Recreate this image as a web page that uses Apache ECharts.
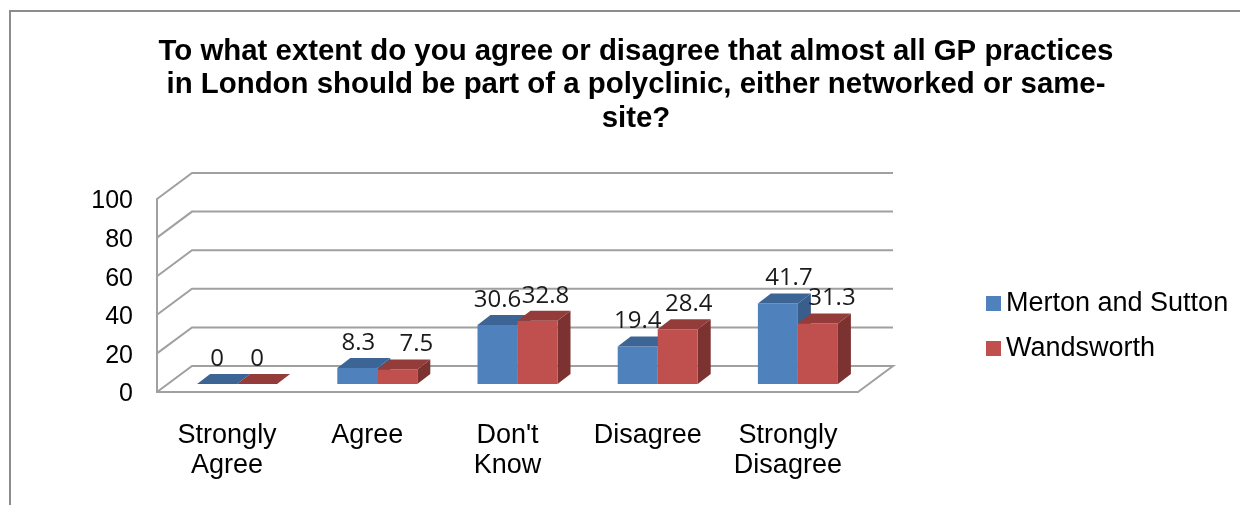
<!DOCTYPE html>
<html>
<head>
<meta charset="utf-8">
<style>html,body{margin:0;padding:0;background:#fff}#c{width:1240px;height:505px}</style>
<script src="https://cdn.jsdelivr.net/npm/echarts@6/dist/echarts.min.js"></script>
</head>
<body>
<div id="c"></div>
<script>
var categories = ["Strongly\nAgree", "Agree", "Don't\nKnow", "Disagree", "Strongly\nDisagree"];
var merton = [0, 8.3, 30.6, 19.4, 41.7];
var wandsworth = [0, 7.5, 32.8, 28.4, 31.3];
var ticks = [0, 20, 40, 60, 80, 100];

var labelShiftA = [0, 1, 0, 0, 11];
var labelShiftB = [0, 19, 8, 11, 14];
var DEPTH = {dx: 35, dy: -26};
var BAR = {w: 40, dx: 13, dy: -10, shift: 10, lift: 8};
var BODY = 'Liberation Sans';
var LABEL = 'Open Sans';
var GRID = '#a0a0a0';

function bars(side, faces, shifts) {
  return function (params, api) {
    var i = api.value(0), v = api.value(1);
    var c = api.coord([i, 0]), t = api.coord([i, v]);
    var boundary = c[0] + BAR.shift;
    var x0 = side < 0 ? boundary - BAR.w : boundary, x1 = x0 + BAR.w;
    var y0 = c[1] - BAR.lift, y1 = t[1] - BAR.lift;
    var d = BAR;
    return {type: 'group', children: [
      {type: 'polygon', shape: {points: [[x1, y0], [x1 + d.dx, y0 + d.dy], [x1 + d.dx, y1 + d.dy], [x1, y1]]}, style: {fill: faces.side}},
      {type: 'rect', shape: {x: x0, y: y1, width: BAR.w, height: y0 - y1}, style: {fill: faces.front}},
      {type: 'polygon', shape: {points: [[x0, y1], [x1, y1], [x1 + d.dx, y1 + d.dy], [x0 + d.dx, y1 + d.dy]]}, style: {fill: faces.top}},
      {type: 'text', style: {text: String(v), x: (x0 + x1) / 2 + shifts[i], y: y1 - 25, align: 'center', verticalAlign: 'middle', font: '24px "' + LABEL + '"', fill: '#1a1a1a'}}
    ]};
  };
}

var chart = echarts.init(document.getElementById('c'), null, {renderer: 'canvas'});
chart.setOption({
  animation: false,
  backgroundColor: '#fff',
  title: {
    text: 'To what extent do you agree or disagree that almost all GP practices\nin London should be part of a polyclinic, either networked or same-\nsite?',
    left: 631, top: 30, textAlign: 'center',
    textStyle: {fontFamily: BODY, fontWeight: 'bold', fontSize: 29.4, lineHeight: 33.5, color: '#000'}
  },
  legend: {
    data: ['Merton and Sutton', 'Wandsworth'],
    orient: 'vertical', left: 986, top: 289, padding: 0, itemWidth: 15, itemHeight: 15, itemGap: 16, icon: 'rect',
    textStyle: {fontFamily: BODY, fontSize: 27, lineHeight: 29, color: '#000', padding: [0, 0, 0, 0]}
  },
  graphic: [{type: 'polyline', shape: {points: [[10, 505], [10, 11], [1240, 11]]}, style: {stroke: '#8c8c8c', lineWidth: 2, fill: null}}],
  grid: {left: 157, right: 382, top: 199, height: 193},
  xAxis: {
    type: 'category', data: categories,
    axisLine: {lineStyle: {color: GRID, width: 2}}, axisTick: {show: false}, splitLine: {show: false},
    axisLabel: {interval: 0, margin: 29, fontFamily: BODY, fontSize: 27, lineHeight: 30, color: '#000'}
  },
  yAxis: {
    type: 'value', min: 0, max: 100, interval: 20,
    axisLine: {show: true, lineStyle: {color: GRID, width: 2}}, axisTick: {show: false}, splitLine: {show: false},
    axisLabel: {margin: 24, fontFamily: BODY, fontSize: 25, color: '#000', verticalAlign: 'top', padding: [-10, 0, 0, 0]}
  },
  series: [
    {
      type: 'custom', name: 'walls', silent: true, z: 1,
      data: ticks.map(function (v) { return [0, v]; }),
      encode: {x: 0, y: 1},
      renderItem: function (params, api) {
        var cs = params.coordSys, y = api.coord([0, api.value(1)])[1];
        var pts = [[cs.x, y], [cs.x + DEPTH.dx, y + DEPTH.dy], [cs.x + cs.width + DEPTH.dx, y + DEPTH.dy]];
        if (api.value(1) === 0) pts.push([cs.x + cs.width, y]);
        return {type: 'polyline', shape: {points: pts}, style: {stroke: GRID, lineWidth: 2, fill: null}};
      }
    },
    {
      type: 'custom', name: 'Merton and Sutton', z: 2, clip: false,
      itemStyle: {color: '#4f81bd'},
      data: merton.map(function (v, i) { return [i, v]; }), encode: {x: 0, y: 1},
      renderItem: bars(-1, {front: '#4f81bd', top: '#3c6494', side: '#3a5e8c'}, labelShiftA)
    },
    {
      type: 'custom', name: 'Wandsworth', z: 3, clip: false,
      itemStyle: {color: '#c0504d'},
      data: wandsworth.map(function (v, i) { return [i, v]; }), encode: {x: 0, y: 1},
      renderItem: bars(1, {front: '#c0504d', top: '#943c3a', side: '#7b3230'}, labelShiftB)
    }
  ]
});
</script>
</body>
</html>
